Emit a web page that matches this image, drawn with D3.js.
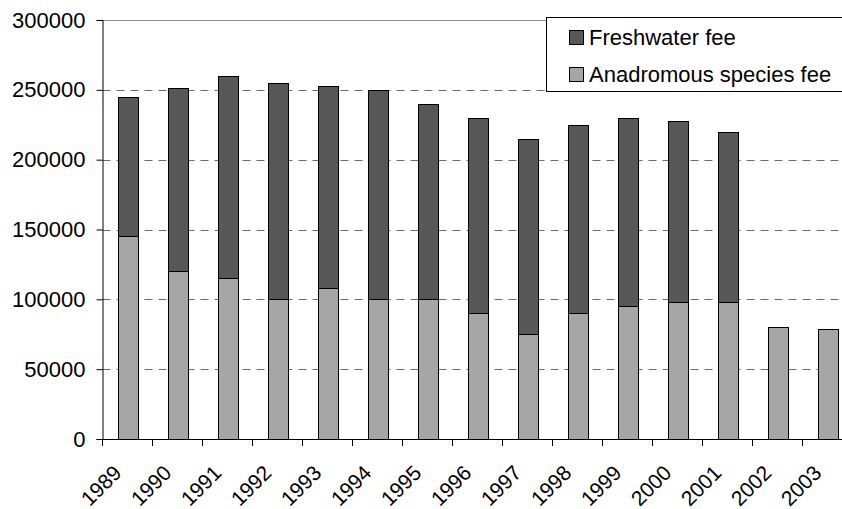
<!DOCTYPE html>
<html>
<head>
<meta charset="utf-8">
<script src="https://cdn.jsdelivr.net/npm/d3@7"></script>
<style>
  html, body { margin: 0; padding: 0; background: #ffffff; }
  svg { display: block; font-family: "Liberation Sans", Arial, sans-serif; }
</style>
</head>
<body>
<svg id="chart" width="842" height="509"></svg>
<script>
// Fishing licence fee revenue by year
const years = ["1989", "1990", "1991", "1992", "1993", "1994", "1995", "1996",
               "1997", "1998", "1999", "2000", "2001", "2002", "2003"];
const anadromousFee = [145000, 120000, 115000, 100000, 108000, 100000, 100000, 90000,
                       75000, 90000, 95000, 98000, 98000, 80000, 79000];
const freshwaterFee = [100000, 131000, 145000, 155000, 145000, 150000, 140000, 140000,
                       140000, 135000, 135000, 130000, 122000, 0, 0];
const yTicks = [0, 50000, 100000, 150000, 200000, 250000, 300000];
const seriesNames = ["Freshwater fee", "Anadromous species fee"];
const seriesColors = ["#575757", "#a6a6a6"];

const svg = d3.select("#chart");
const plotLeft = 102.5, plotRight = 852.5, plotTop = 20, plotBottom = 439;

const x = d3.scaleBand().domain(years).range([plotLeft, plotRight])
  .paddingInner(0.6).paddingOuter(0.3);
const y = d3.scaleLinear().domain([0, 300000]).range([plotBottom, plotTop]);

// gridlines
const grid = svg.append("g");
grid.selectAll("line").data(yTicks.filter(v => v > 0 && v < 300000)).join("line")
  .attr("x1", plotLeft).attr("x2", plotRight)
  .attr("y1", d => Math.round(y(d)) + 0.5).attr("y2", d => Math.round(y(d)) + 0.5)
  .attr("stroke", "#6e6e6e").attr("stroke-width", 1)
  .attr("stroke-dasharray", "8,6");
// plot area top edge
grid.append("line")
  .attr("x1", plotLeft).attr("x2", plotRight)
  .attr("y1", plotTop + 0.5).attr("y2", plotTop + 0.5)
  .attr("stroke", "#8c8c8c").attr("stroke-width", 1);

// stacked bars
const rows = years.map((yr, i) => ({ year: yr, anad: anadromousFee[i], fresh: freshwaterFee[i] }));
const stack = d3.stack().keys(["anad", "fresh"])(rows);
const layerColor = { anad: seriesColors[1], fresh: seriesColors[0] };

svg.append("g").selectAll("g").data(stack).join("g")
  .attr("fill", d => layerColor[d.key])
  .selectAll("rect").data(d => d.filter(s => s[1] - s[0] > 0)).join("rect")
  .attr("x", d => Math.round(x(d.data.year)) + 0.5)
  .attr("width", Math.round(x.bandwidth()))
  .attr("y", d => Math.round(y(d[1])) + 0.5)
  .attr("height", d => Math.round(y(d[0])) - Math.round(y(d[1])))
  .attr("stroke", "#000").attr("stroke-width", 1);

// y axis
const yAxis = svg.append("g").attr("transform", `translate(${plotLeft},0)`)
  .call(d3.axisLeft(y).tickValues(yTicks).tickSize(6).tickPadding(11).tickFormat(d3.format("d")));
yAxis.select(".domain").attr("stroke", "#000");
yAxis.selectAll(".tick line").attr("stroke", "#000");
yAxis.selectAll("text").attr("font-size", 22).attr("fill", "#000")
  .attr("font-family", "Liberation Sans, Arial, sans-serif");

// x axis with boundary ticks between categories
const xg = svg.append("g").attr("transform", `translate(0,${plotBottom})`);
xg.append("line").attr("x1", plotLeft).attr("x2", plotRight).attr("y1", 0.5).attr("y2", 0.5)
  .attr("stroke", "#000");
const step = x.step();
xg.selectAll("line.tk").data(d3.range(years.length + 1)).join("line")
  .attr("class", "tk")
  .attr("x1", i => plotLeft + i * step).attr("x2", i => plotLeft + i * step)
  .attr("y1", 0).attr("y2", 7).attr("stroke", "#000");
svg.append("g").selectAll("text").data(years).join("text")
  .attr("transform", d => `translate(${x(d) + x.bandwidth() / 2 - 10},469) rotate(-45)`)
  .attr("text-anchor", "end").attr("dy", "0.35em")
  .attr("font-size", 21).attr("fill", "#000")
  .text(d => d);

// legend
const lg = svg.append("g");
lg.append("rect").attr("x", 546.5).attr("y", 17.5).attr("width", 320).attr("height", 74)
  .attr("fill", "#fff").attr("stroke", "#000").attr("stroke-width", 1);
const items = lg.selectAll("g").data(seriesNames).join("g")
  .attr("transform", (d, i) => `translate(0,${i * 37})`);
items.append("rect").attr("x", 569.5).attr("y", 30.5).attr("width", 14).attr("height", 14)
  .attr("fill", (d, i) => seriesColors[i]).attr("stroke", "#000");
items.append("text").attr("x", 589).attr("y", 45)
  .attr("font-size", 22).attr("fill", "#000").text(d => d);
</script>
</body>
</html>
